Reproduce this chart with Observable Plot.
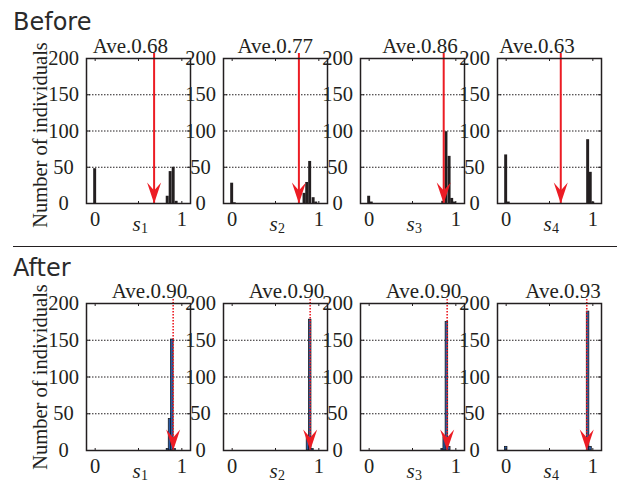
<!DOCTYPE html>
<html>
<head>
<meta charset="utf-8">
<script src="https://cdn.jsdelivr.net/npm/d3@7"></script>
<script src="https://cdn.jsdelivr.net/npm/@observablehq/plot@0.6"></script>
<style>
  body { margin: 0; background: #fff; }
  #chart { position: relative; width: 623px; height: 482px; overflow: hidden; background: #fff; }
  .row-title { position: absolute; left: 13px; font-family: "DejaVu Sans", sans-serif; font-size: 24px; line-height: 1; color: #2a2a2a; }
  .sep { position: absolute; left: 13px; width: 604px; top: 246px; height: 0; border-top: 1px solid #231f20; }
  svg.panel { position: absolute; }
</style>
</head>
<body>
<div id="chart"></div>
<script>
// ---------- data ----------
const rowNames = ["Before", "After"];
const subscripts = ["1", "2", "3", "4"];
const xLetter = "s";
const yLabel = "Number of individuals";
const yTicks = [0, 50, 100, 150, 200];
const yGrid = [50, 100, 150];
const xTickLabels = [0, 1];
const xTickMarks = [0, 0.5, 1];

const beforeAve = [0.68, 0.77, 0.86, 0.63];
const afterAve = [0.90, 0.90, 0.90, 0.93];
const beforeAveLabels = ["Ave.0.68", "Ave.0.77", "Ave.0.86", "Ave.0.63"];
const afterAveLabels = ["Ave.0.90", "Ave.0.90", "Ave.0.90", "Ave.0.93"];

// histogram bins: [bin centre, count]
const beforeS1 = [[0, 48], [0.837, 10], [0.871, 44], [0.906, 50], [0.94, 3]];
const beforeS2 = [[0, 28], [0.03, 1], [0.835, 14], [0.866, 29], [0.9, 58], [0.94, 8], [0.97, 2]];
const beforeS3 = [[0, 10], [0.03, 2], [0.855, 3], [0.892, 99], [0.928, 65], [0.958, 7], [0.99, 2]];
const beforeS4 = [[0, 67], [0.03, 2], [0.946, 88], [0.976, 43], [1.005, 2]];
const afterS1 = [[0.84, 2], [0.864, 43], [0.89, 151], [0.916, 2]];
const afterS2 = [[0.875, 20], [0.9, 178], [0.926, 2]];
const afterS3 = [[0.848, 2], [0.872, 18], [0.897, 175], [0.924, 5]];
const afterS4 = [[0, 5], [0.945, 189], [0.973, 5]];

const beforeBins = [beforeS1, beforeS2, beforeS3, beforeS4];
const afterBins = [afterS1, afterS2, afterS3, afterS4];
const beforeBinWidth = 0.034;
const afterBinWidth = 0.03;

// ---------- styles ----------
const ink = "#231f20";
const red = "#ec1c24";
const blue = "#2a5aa8";
const serif = "Liberation Serif, Times New Roman, serif";

// barbed arrow head, tip at origin, pointing down
const arrowHead = {
  draw(ctx, size) {
    const s = Math.sqrt(size / Math.PI) / 10;
    ctx.moveTo(0, 0);
    ctx.lineTo(-7 * s, -21 * s);
    ctx.lineTo(0, -13 * s);
    ctx.lineTo(7 * s, -21 * s);
    ctx.closePath();
  }
};

const chart = document.getElementById("chart");

// layout
const frameLeft0 = 86, panelStep = 137, frameW = 104;
const rowFrameTop = [58, 303], rowFrameH = [145, 147];
const mL = 60, mR = 14, mT = 32, mB = 38;

function panel(row, i) {
  const isBefore = row === 0;
  const bins = isBefore ? beforeBins[i] : afterBins[i];
  const w = isBefore ? beforeBinWidth : afterBinWidth;
  const ave = isBefore ? beforeAve[i] : afterAve[i];
  const aveLabel = isBefore ? beforeAveLabels[i] : afterAveLabels[i];
  const marks = [
    Plot.ruleY(yGrid, {stroke: ink, strokeWidth: 1, strokeDasharray: "1.5,1.5"}),
    Plot.rectY(bins, {
      x1: d => d[0] - w / 2, x2: d => d[0] + w / 2, y1: 0, y2: d => d[1],
      fill: isBefore ? ink : blue, stroke: isBefore ? "none" : "#111", strokeWidth: 0.7
    }),
    Plot.ruleX([ave], {
      x: d => d, insetTop: isBefore ? -5 : -4, stroke: red,
      strokeWidth: isBefore ? 2 : 1.6, strokeDasharray: isBefore ? null : "1.6,1.4"
    }),
    Plot.dot([ave], {x: d => d, y: 0, r: 10, symbol: arrowHead, fill: red, stroke: "none"}),
    Plot.text([aveLabel], {
      x: () => ave, frameAnchor: "top", text: d => d, textAnchor: "end", lineAnchor: "bottom",
      dx: 14, dy: -6, fontSize: 21, fontFamily: serif, fill: ink
    }),
    Plot.frame({stroke: ink, strokeWidth: 1.5}),
    Plot.axisY(yTicks, {anchor: "left", tickSize: 0, tickPadding: 23, textAnchor: "middle",
      fontSize: 20.5, fontFamily: serif, fill: ink, label: null}),
    Plot.axisX(xTickLabels, {anchor: "bottom", tickSize: 0, tickPadding: 8,
      fontSize: 20.5, fontFamily: serif, fill: ink, label: null}),
    Plot.axisX(xTickMarks, {anchor: "top", frameAnchor: "bottom", tickSize: 3, stroke: ink, fill: "none", label: null}),
    Plot.axisX(xTickMarks, {anchor: "bottom", frameAnchor: "top", tickSize: 3, stroke: ink, fill: "none", label: null}),
    Plot.axisY(yGrid, {anchor: "right", frameAnchor: "left", tickSize: 3, stroke: ink, fill: "none", label: null}),
    Plot.axisY(yGrid, {anchor: "left", frameAnchor: "right", tickSize: 3, stroke: ink, fill: "none", label: null}),
    Plot.text([xLetter], {
      x: () => 0.5, frameAnchor: "bottom", text: d => d, lineAnchor: "bottom",
      dx: -2, dy: 27, fontSize: 21, fontStyle: "italic", fontFamily: serif, fill: ink
    }),
    Plot.text([subscripts[i]], {
      x: () => 0.5, frameAnchor: "bottom", text: d => d, lineAnchor: "bottom",
      dx: 6, dy: 29.5, fontSize: 14, fontFamily: serif, fill: ink
    })
  ];
  if (i === 0) {
    marks.push(Plot.text([yLabel], {
      frameAnchor: "left", text: d => d, rotate: -90, textAnchor: "middle", lineAnchor: "middle",
      dx: -46, dy: isBefore ? 4 : 0,
      fontSize: 20.5, fontFamily: serif, fill: ink
    }));
  }
  const svg = Plot.plot({
    width: mL + frameW + mR,
    height: mT + rowFrameH[row] + mB,
    marginLeft: mL, marginRight: mR, marginTop: mT, marginBottom: mB,
    x: {domain: [-0.1, 1.1], axis: null},
    y: {domain: [0, 200], axis: null},
    style: {background: "transparent", overflow: "visible", fontFamily: serif, color: ink},
    marks
  });
  svg.classList.add("panel");
  svg.style.left = (frameLeft0 + i * panelStep - mL) + "px";
  svg.style.top = (rowFrameTop[row] - mT) + "px";
  svg.style.maxWidth = "none";
  return svg;
}

// row titles and separator
const t0 = document.createElement("div");
t0.className = "row-title"; t0.textContent = rowNames[0]; t0.style.top = "10px";
chart.appendChild(t0);
const t1 = document.createElement("div");
t1.className = "row-title"; t1.textContent = rowNames[1]; t1.style.top = "256px";
chart.appendChild(t1);
const sep = document.createElement("div");
sep.className = "sep";
chart.appendChild(sep);

for (let row = 0; row < 2; row++) {
  for (let i = 0; i < 4; i++) chart.appendChild(panel(row, i));
}
</script>
</body>
</html>
